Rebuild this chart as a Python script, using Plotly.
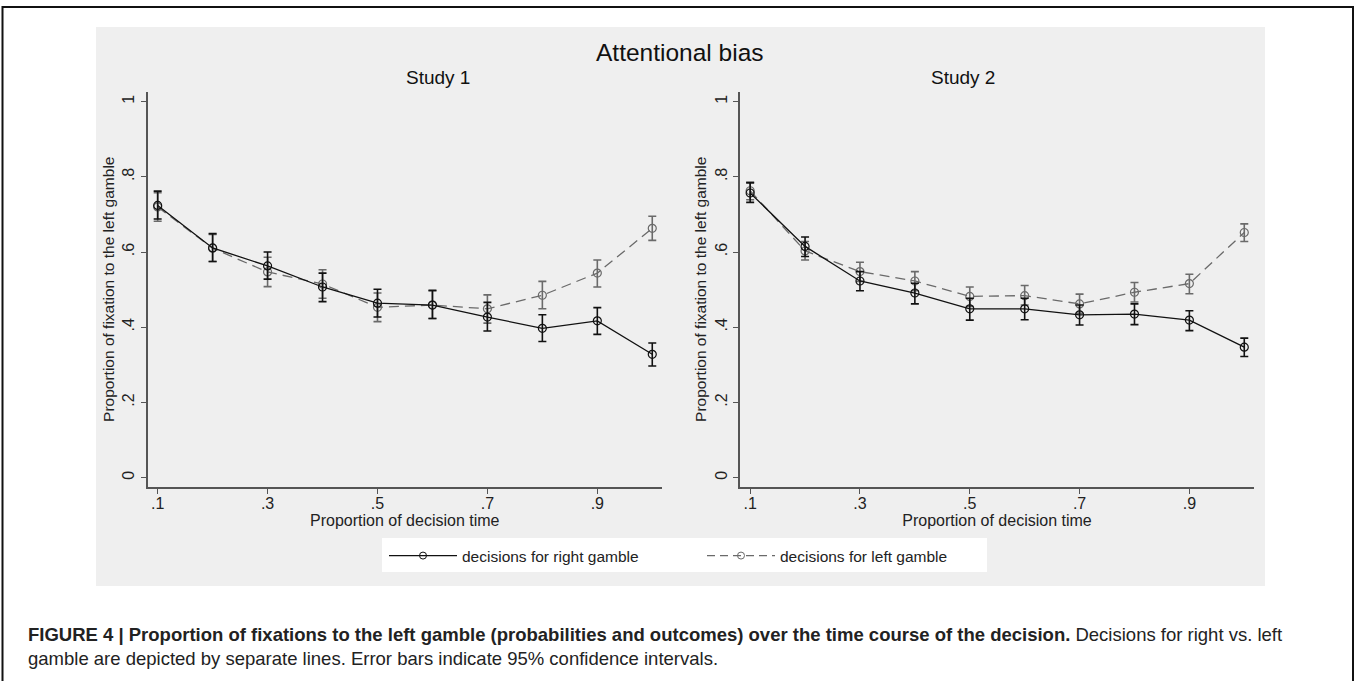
import plotly.graph_objects as go

W, H = 1356, 681

# proportion of decision time
time_bins = [0.1, 0.2, 0.3, 0.4, 0.5, 0.6, 0.7, 0.8, 0.9, 1.0]

# Study 1 - decisions for right gamble (solid)
s1_right = [0.724, 0.611, 0.563, 0.507, 0.464, 0.459, 0.427, 0.397, 0.417, 0.328]
s1_right_lo = [0.688, 0.575, 0.528, 0.468, 0.427, 0.423, 0.390, 0.362, 0.381, 0.297]
s1_right_hi = [0.762, 0.649, 0.600, 0.544, 0.501, 0.498, 0.466, 0.433, 0.452, 0.358]

# Study 1 - decisions for left gamble (dashed)
s1_left = [0.720, 0.610, 0.547, 0.515, 0.453, 0.459, 0.449, 0.485, 0.544, 0.663]
s1_left_lo = [0.682, 0.575, 0.508, 0.477, 0.415, 0.423, 0.411, 0.449, 0.507, 0.631]
s1_left_hi = [0.758, 0.647, 0.586, 0.553, 0.491, 0.497, 0.486, 0.522, 0.579, 0.695]

# Study 2 - decisions for right gamble (solid)
s2_right = [0.757, 0.615, 0.523, 0.491, 0.449, 0.449, 0.433, 0.435, 0.419, 0.347]
s2_right_lo = [0.732, 0.588, 0.497, 0.462, 0.419, 0.420, 0.406, 0.407, 0.391, 0.322]
s2_right_hi = [0.784, 0.640, 0.548, 0.517, 0.477, 0.477, 0.459, 0.462, 0.444, 0.371]

# Study 2 - decisions for left gamble (dashed)
s2_left = [0.763, 0.603, 0.548, 0.523, 0.482, 0.484, 0.462, 0.493, 0.516, 0.652]
s2_left_lo = [0.739, 0.579, 0.522, 0.497, 0.455, 0.459, 0.437, 0.467, 0.489, 0.628]
s2_left_hi = [0.786, 0.628, 0.573, 0.548, 0.507, 0.511, 0.488, 0.519, 0.541, 0.675]

x_ticks = [0.1, 0.3, 0.5, 0.7, 0.9]
x_ticktext = [".1", ".3", ".5", ".7", ".9"]
y_ticks = [0, 0.2, 0.4, 0.6, 0.8, 1]
y_ticktext = ["0", ".2", ".4", ".6", ".8", "1"]
grid_vals = [0.2, 0.4, 0.6, 0.8]

FONT = "Liberation Sans, Arial, Helvetica, sans-serif"
SOLID_COL = "#111111"
DASH_COL = "#6a6a6a"
AXIS_COL = "#555555"


def px_x(p):
    return p / W


def px_y(p):
    return 1 - p / H


def ci_trace(x, mean, lo, hi, color, dash, xa, ya):
    return go.Scatter(
        x=x, y=mean, xaxis=xa, yaxis=ya,
        mode="lines+markers",
        line=dict(color=color, width=1.3, dash=dash),
        marker=dict(symbol="circle-open", size=8, color=color, line=dict(width=1.2, color=color)),
        error_y=dict(type="data", symmetric=False,
                     array=[h - m for h, m in zip(hi, mean)],
                     arrayminus=[m - l for m, l in zip(mean, lo)],
                     color=color, thickness=1.6, width=4),
        showlegend=False, hoverinfo="x+y",
    )


fig = go.Figure()

# legend entries
fig.add_trace(go.Scatter(x=[None], y=[None], mode="lines+markers", name="decisions for right gamble",
                         line=dict(color=SOLID_COL, width=1.3),
                         marker=dict(symbol="circle-open", size=7, color=SOLID_COL)))
fig.add_trace(go.Scatter(x=[None], y=[None], mode="lines+markers", name="decisions for left gamble",
                         line=dict(color=DASH_COL, width=1.3, dash="8px,5px"),
                         marker=dict(symbol="circle-open", size=7, color=DASH_COL)))

fig.add_trace(ci_trace(time_bins, s1_left, s1_left_lo, s1_left_hi, DASH_COL, "10px,6px", "x", "y"))
fig.add_trace(ci_trace(time_bins, s1_right, s1_right_lo, s1_right_hi, SOLID_COL, "solid", "x", "y"))
fig.add_trace(ci_trace(time_bins, s2_left, s2_left_lo, s2_left_hi, DASH_COL, "10px,6px", "x2", "y2"))
fig.add_trace(ci_trace(time_bins, s2_right, s2_right_lo, s2_right_hi, SOLID_COL, "solid", "x2", "y2"))

x_range = [0.0815, 1.0177]
y_range = [-0.025, 1.027]
y_dom = [px_y(487), px_y(91.5)]

xaxis_style = dict(
    range=x_range, tickvals=x_ticks, ticktext=x_ticktext,
    showgrid=False, zeroline=False, showline=True, linecolor=AXIS_COL, linewidth=1.6,
    ticks="outside", ticklen=5, tickwidth=1.3, tickcolor=AXIS_COL, ticklabelstandoff=-4,
    tickfont=dict(size=16, color="#222222", family=FONT),
    title=dict(text="Proportion of decision time", font=dict(size=16, color="#222222", family=FONT), standoff=0),
)
yaxis_style = dict(
    range=y_range, tickvals=y_ticks, ticktext=y_ticktext, tickangle=-90,
    showgrid=False, zeroline=False, showline=True, linecolor=AXIS_COL, linewidth=1.6,
    ticks="outside", ticklen=5, tickwidth=1.3, tickcolor=AXIS_COL,
    tickfont=dict(size=16, color="#222222", family=FONT),
    title=dict(text="Proportion of fixation to the left gamble",
               font=dict(size=15.5, color="#222222", family=FONT), standoff=2),
    domain=y_dom,
)
grid_style = dict(
    range=y_range, tickvals=grid_vals, showgrid=True, gridcolor="#e6e6e6", gridwidth=1.5,
    showticklabels=False, ticks="", showline=False, zeroline=False, domain=y_dom,
)

fig.update_layout(
    width=W, height=H,
    margin=dict(l=0, r=0, t=0, b=0),
    paper_bgcolor="white", plot_bgcolor="white",
    font=dict(family=FONT, color="#222222"),
    xaxis=dict(xaxis_style, domain=[px_x(147.5), px_x(662)], anchor="y"),
    yaxis=dict(yaxis_style, anchor="x"),
    xaxis2=dict(xaxis_style, domain=[px_x(740), px_x(1254)], anchor="y2"),
    yaxis2=dict(yaxis_style, anchor="x2"),
    yaxis3=dict(grid_style, overlaying="y", anchor="x"),
    yaxis4=dict(grid_style, overlaying="y2", anchor="x2"),
    showlegend=True,
    legend=dict(orientation="h", x=px_x(384), xanchor="left", y=px_y(556), yanchor="middle",
                bgcolor="rgba(0,0,0,0)", entrywidth=235, entrywidthmode="pixels", itemwidth=68,
                font=dict(size=15.5, color="#222222", family=FONT)),
    shapes=[
        # outer figure frame
        dict(type="rect", xref="paper", yref="paper", x0=px_x(2.5), x1=px_x(1353), y0=-0.05, y1=px_y(7),
             line=dict(color="#111111", width=2), fillcolor="rgba(0,0,0,0)", layer="below"),
        # gray graph region
        dict(type="rect", xref="paper", yref="paper", x0=px_x(96), x1=px_x(1265), y0=px_y(586), y1=px_y(27),
             line=dict(width=0), fillcolor="#efefef", layer="below"),
        # legend box
        dict(type="rect", xref="paper", yref="paper", x0=px_x(382), x1=px_x(987), y0=px_y(572), y1=px_y(538),
             line=dict(width=0), fillcolor="white", layer="below"),
    ],
    annotations=[
        dict(text="Attentional bias", xref="paper", yref="paper", x=px_x(680), y=px_y(52),
             showarrow=False, font=dict(size=24.5, color="#111111", family=FONT), yanchor="middle"),
        dict(text="Study 1", xref="paper", yref="paper", x=px_x(404), y=px_y(77),
             showarrow=False, font=dict(size=19, color="#111111", family=FONT), yanchor="middle"),
        dict(text="Study 2", xref="paper", yref="paper", x=px_x(997), y=px_y(77),
             showarrow=False, font=dict(size=19, color="#111111", family=FONT), yanchor="middle"),
        dict(text="<b>FIGURE 4 | Proportion of fixations to the left gamble (probabilities and outcomes) "
                  "over the time course of the decision.</b> Decisions for right vs. left<br>"
                  "gamble are depicted by separate lines. Error bars indicate 95% confidence intervals.",
             xref="paper", yref="paper", x=px_x(26), y=px_y(646), xanchor="left", yanchor="middle",
             align="left", showarrow=False,
             font=dict(size=18.5, color="#222222", family=FONT)),
    ],
)

fig.write_html("out.html", config={"displayModeBar": False},
               post_script="document.body.style.margin='0';document.body.style.overflow='hidden';")
